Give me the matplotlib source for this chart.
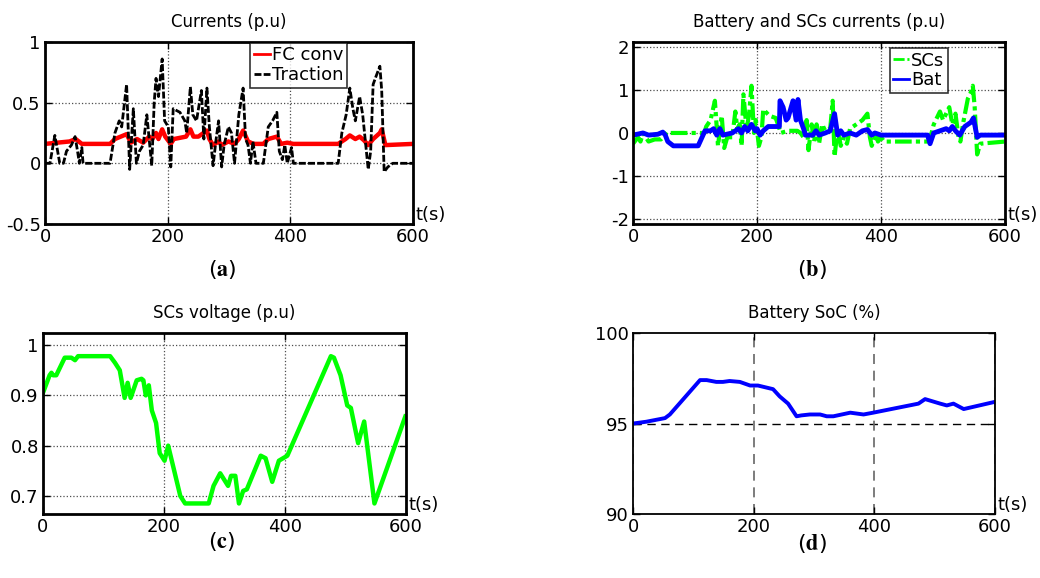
import matplotlib.pyplot as plt

plt.rcParams['font.family'] = ['DejaVu Sans']
plt.rcParams['mathtext.fontset'] = 'stix'

# (a) currents
t_trac = [0, 8, 16, 24, 30, 35, 43, 49, 53, 56, 60, 62, 106, 114, 121, 125, 133, 138, 144, 149,
          154, 160, 166, 174, 178, 181, 185, 191, 195, 201, 205, 209, 220, 228, 231, 237, 241, 247,
          255, 259, 264, 268, 274, 279, 283, 288, 292, 299, 304, 309, 316, 323, 327, 331, 335, 339,
          344, 356, 364, 371, 378, 382, 387, 391, 395, 402, 405, 478, 484, 491, 497, 502, 506, 513,
          518, 527, 531, 535, 540, 546, 549, 553, 559, 567, 600]
traction = [0, 0, 0.23, 0, 0, 0.1, 0.15, 0.22, 0.1, 0, 0.13, 0, 0, 0.25, 0.35, 0.3, 0.65, -0.05,
            0.45, 0, 0.1, 0.15, 0.4, -0.02, 0.5, 0.7, 0.55, 0.86, 0.35, 0.3, -0.03, 0.45, 0.42, 0.35,
            0.25, 0.63, 0.4, 0.35, 0.6, 0.2, 0.62, 0.3, -0.02, 0.2, 0.35, -0.03, 0.15, 0.3, 0.25, 0,
            0.4, 0.62, 0.2, 0.15, 0, 0.18, 0, 0, 0.3, 0.35, 0.42, 0.1, 0.03, 0.15, 0, 0.13, 0, 0,
            0.25, 0.4, 0.62, 0.45, 0.35, 0.55, 0.4, -0.05, 0.1, 0.65, 0.72, 0.8, 0.6, -0.07, -0.03,
            0, 0]
t_fc = [0, 20, 40, 50, 60, 106, 114, 133, 140, 150, 160, 170, 175, 181, 185, 191, 196, 205, 210,
        230, 237, 242, 250, 264, 268, 274, 283, 288, 299, 309, 316, 323, 331, 340, 356, 364, 378,
        385, 395, 405, 478, 490, 497, 506, 513, 520, 527, 535, 546, 549, 555, 600]
fc_conv = [0.16, 0.17, 0.18, 0.2, 0.16, 0.16, 0.2, 0.24, 0.17, 0.2, 0.17, 0.22, 0.2, 0.25, 0.2,
           0.28, 0.22, 0.16, 0.2, 0.22, 0.28, 0.22, 0.22, 0.27, 0.2, 0.15, 0.18, 0.15, 0.18, 0.16,
           0.2, 0.27, 0.18, 0.16, 0.16, 0.2, 0.22, 0.16, 0.17, 0.16, 0.16, 0.2, 0.23, 0.2, 0.22,
           0.19, 0.15, 0.2, 0.25, 0.28, 0.15, 0.16]

# (b) battery and SCs currents
t_bat = [0, 16, 25, 40, 48, 52, 56, 65, 105, 116, 125, 130, 135, 140, 145, 160, 170, 175, 180,
         185, 191, 197, 200, 205, 210, 218, 236, 237, 242, 247, 250, 258, 263, 266, 270, 275, 278,
         290, 295, 300, 310, 318, 325, 330, 335, 340, 350, 360, 370, 378, 385, 390, 400, 475, 479,
         485, 495, 505, 510, 515, 520, 527, 535, 545, 549, 555, 560, 600]
bat = [-0.05, 0, -0.05, -0.03, 0.02, -0.05, -0.2, -0.3, -0.3, 0.05, 0.05, 0.1, -0.05, 0.1, -0.05,
       0, 0.1, 0, 0.15, 0.05, 0.2, 0.05, 0.1, -0.05, 0.05, 0.15, 0.15, 0.75, 0.6, 0.3, 0.35, 0.75,
       0.3, 0.78, 0.3, 0.1, -0.05, -0.05, 0.05, -0.05, 0, 0.05, 0.45, -0.05, 0.05, -0.05, 0, -0.05,
       0.05, 0.08, -0.05, 0, -0.05, -0.05, -0.25, 0, 0.05, 0.1, 0.05, 0.15, 0.05, -0.05, 0.15,
       0.25, 0.35, -0.1, -0.05, -0.05]
t_scs = [0, 8, 12, 16, 25, 35, 45, 55, 60, 115, 118, 125, 132, 137, 143, 147, 152, 160, 165, 168,
         172, 175, 178, 183, 187, 191, 195, 198, 203, 207, 210, 220, 230, 235, 238, 250, 265, 270,
         275, 280, 283, 288, 292, 296, 300, 305, 310, 318, 322, 325, 330, 335, 340, 345, 350, 360,
         370, 378, 382, 385, 392, 395, 400, 405, 478, 485, 495, 500, 510, 515, 520, 525, 528, 532,
         540, 545, 548, 551, 555, 560, 600]
scs = [-0.25, -0.1, -0.2, 0, -0.2, -0.15, -0.15, 0.02, 0, 0, 0.15, 0.3, 0.75, -0.3, 0.4, -0.35,
       -0.1, -0.1, 0.5, 0.1, 0.2, -0.3, 0.9, 0.1, 0.4, 1.1, 0, 0.3, -0.3, -0.1, 0.55, 0.4, 0.35,
       0.15, 0, 0.05, 0.05, 0, -0.1, 0.3, -0.4, 0.2, -0.2, 0.2, -0.25, 0.2, 0.05, 0.1, 0.75, -0.55,
       0.1, -0.3, -0.1, -0.25, 0.1, 0.2, 0.3, 0.45, -0.1, -0.3, 0, -0.2, -0.1, -0.2, -0.2, 0.2,
       0.5, 0.3, 0.6, 0.2, 0.45, -0.1, -0.2, 0.2, 0.8, 0.95, 1.1, 0.6, -0.5, -0.25, -0.2]

# (c) SCs voltage
t_vsc = [0, 11, 14, 17, 22, 36, 47, 53, 58, 111, 119, 127, 135, 140, 145, 155, 163, 166, 170, 175,
         180, 187, 193, 201, 207, 227, 235, 274, 282, 293, 306, 311, 318, 324, 331, 337, 360, 368,
         379, 390, 404, 476, 481, 492, 503, 509, 521, 531, 548, 599]
v_sc = [0.905, 0.94, 0.945, 0.94, 0.94, 0.975, 0.975, 0.97, 0.978, 0.978, 0.965, 0.95, 0.895,
        0.925, 0.895, 0.93, 0.933, 0.93, 0.9, 0.92, 0.87, 0.845, 0.785, 0.77, 0.8, 0.7, 0.685,
        0.685, 0.72, 0.745, 0.72, 0.74, 0.74, 0.685, 0.71, 0.713, 0.78, 0.775, 0.728, 0.77, 0.78,
        0.978, 0.975, 0.94, 0.88, 0.875, 0.805, 0.848, 0.685, 0.858]

# (d) battery SoC
t_soc = [0, 22, 53, 61, 111, 122, 138, 149, 160, 177, 194, 207, 232, 243, 257, 271, 279, 293, 310,
         321, 332, 360, 382, 398, 473, 484, 509, 520, 531, 548, 600]
soc = [95.0, 95.1, 95.3, 95.5, 97.4, 97.4, 97.3, 97.3, 97.35, 97.3, 97.1, 97.1, 96.9, 96.5, 96.1,
       95.4, 95.45, 95.5, 95.5, 95.4, 95.4, 95.6, 95.5, 95.6, 96.1, 96.35, 96.1, 96.0, 96.1, 95.8,
       96.2]

xticks = [0, 200, 400, 600]
tick_fs = 13

fig = plt.figure(figsize=(10.4, 5.78), dpi=100)
ax_a = fig.add_axes([0.0433, 0.6125, 0.3538, 0.3149])
ax_b = fig.add_axes([0.6087, 0.6125, 0.3577, 0.3149])
ax_c = fig.add_axes([0.0413, 0.1107, 0.3490, 0.3131])
ax_d = fig.add_axes([0.6087, 0.1107, 0.3481, 0.3131])


def style(ax, title, yticks, ylabels, ylim, lw=2.0):
    ax.set_xlim(0, 600)
    ax.set_ylim(*ylim)
    ax.set_xticks(xticks)
    ax.set_xticklabels([str(v) for v in xticks])
    ax.set_yticks(yticks)
    ax.set_yticklabels(ylabels)
    ax.tick_params(direction='in', length=5, width=1, labelsize=tick_fs, pad=3,
                   top=True, right=True)
    for s in ax.spines.values():
        s.set_linewidth(lw)
        s.set_zorder(5)
    ax.set_title(title, fontsize=12, pad=11)
    ax.text(1.006, 0.05, 't(s)', transform=ax.transAxes, fontsize=tick_fs,
            ha='left', va='center')


def legend(ax, anchor):
    leg = ax.legend(loc='upper right', bbox_to_anchor=anchor, fontsize=tick_fs, frameon=True,
                    fancybox=False, edgecolor='black', handlelength=0.9, handletextpad=0.1,
                    borderpad=0.2, labelspacing=0.1, borderaxespad=0)
    leg.get_frame().set_linewidth(1.2)
    for h in leg.get_lines():
        h.set_linewidth(2)


# (a)
ax_a.plot(t_fc, fc_conv, color='red', lw=3.2, label='FC conv', zorder=3)
ax_a.plot(t_trac, traction, color='black', lw=2, ls=(0, (2.5, 0.8)), label='Traction', zorder=4)
style(ax_a, 'Currents (p.u)', [-0.5, 0, 0.5, 1], ['-0.5', '0', '0.5', '1'], (-0.5, 1))
ax_a.grid(True, ls=':', color='0.3', lw=0.9)
legend(ax_a, (0.82, 0.995))

# (b)
ax_b.plot(t_scs, scs, color='#00ff00', lw=3, ls=(0, (4, 1, 1, 1)), label='SCs', zorder=3)
ax_b.plot(t_bat, bat, color='#0000ff', lw=3.5, label='Bat', zorder=4)
style(ax_b, 'Battery and SCs currents (p.u)', [-2, -1, 0, 1, 2],
      ['-2', '-1', '0', '1', '2'], (-2.12, 2.12))
ax_b.grid(True, ls=':', color='0.3', lw=0.9)
legend(ax_b, (0.847, 0.967))

# (c)
ax_c.plot(t_vsc, v_sc, color='#00ff00', lw=3.2)
style(ax_c, 'SCs voltage (p.u)', [0.7, 0.8, 0.9, 1.0], ['0.7', '0.8', '0.9', '1'],
      (0.664, 1.024))
ax_c.grid(True, ls=':', color='0.3', lw=0.9)

# (d)
ax_d.plot(t_soc, soc, color='#0000ff', lw=2.8)
style(ax_d, 'Battery SoC (%)', [90, 95, 100], ['90', '95', '100'], (90, 100), lw=1.3)
ax_d.xaxis.grid(True, ls=(0, (6, 4)), color='0.4', lw=1.2)
ax_d.axhline(95, ls=(0, (6, 4)), color='black', lw=1.0, zorder=1)

for lab, x, y in [('a', 0.2135, 0.533), ('b', 0.781, 0.533), ('c', 0.2135, 0.064), ('d', 0.781, 0.06)]:
    fig.text(x, y, '($\\mathbf{' + lab + '}$)', fontsize=16, ha='center', va='center')

fig.savefig('out.png', dpi=100)
